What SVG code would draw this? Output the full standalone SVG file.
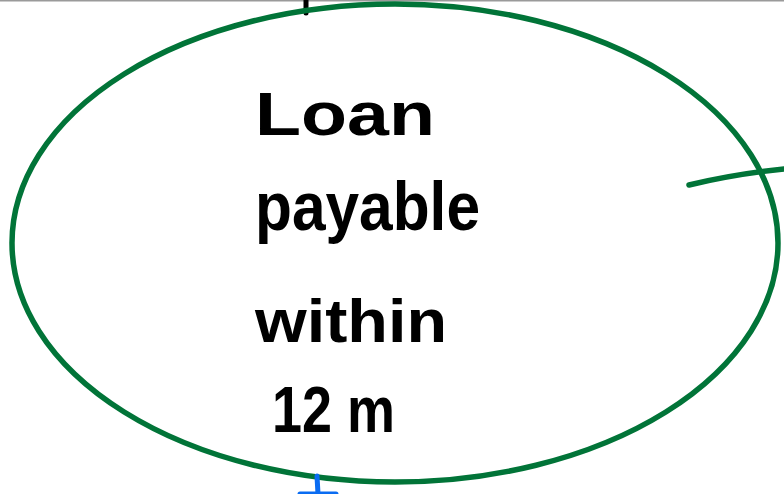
<svg xmlns="http://www.w3.org/2000/svg" width="784" height="494" viewBox="0 0 784 494">
<style>
.ink{fill:none;stroke-linecap:round;stroke-linejoin:round}
.g{stroke:#017438;stroke-width:5.5}
.k{stroke:#000;stroke-width:5}
.b{stroke:#0a6cf2;stroke-width:5}
.t{font-family:"Liberation Sans","DejaVu Sans",sans-serif;font-weight:bold;font-size:62px;fill:#000}
</style>
<rect width="784" height="494" fill="#fff"/>
<line x1="0" y1="0.8" x2="784" y2="0.8" stroke="#9a9a9a" stroke-width="1.6"/>
<path class="ink k" d="M306 0 L306 13"/>
<ellipse class="ink g" cx="395" cy="243" rx="383" ry="239"/>
<path class="ink g" d="M689 185 Q735 174 784 169"/>
<path class="ink b" d="M317 476 L318 494 M300 494 L336 494"/>
<text class="t" x="255" y="135" textLength="180" lengthAdjust="spacingAndGlyphs">Loan</text>
<text class="t" x="255" y="230" textLength="225" lengthAdjust="spacingAndGlyphs" style="font-size:68px">payable</text>
<text class="t" x="255" y="342" textLength="192" lengthAdjust="spacingAndGlyphs">within</text>
<text class="t" x="272" y="432" textLength="123" lengthAdjust="spacingAndGlyphs" style="font-size:64px">12 m</text>
</svg>
